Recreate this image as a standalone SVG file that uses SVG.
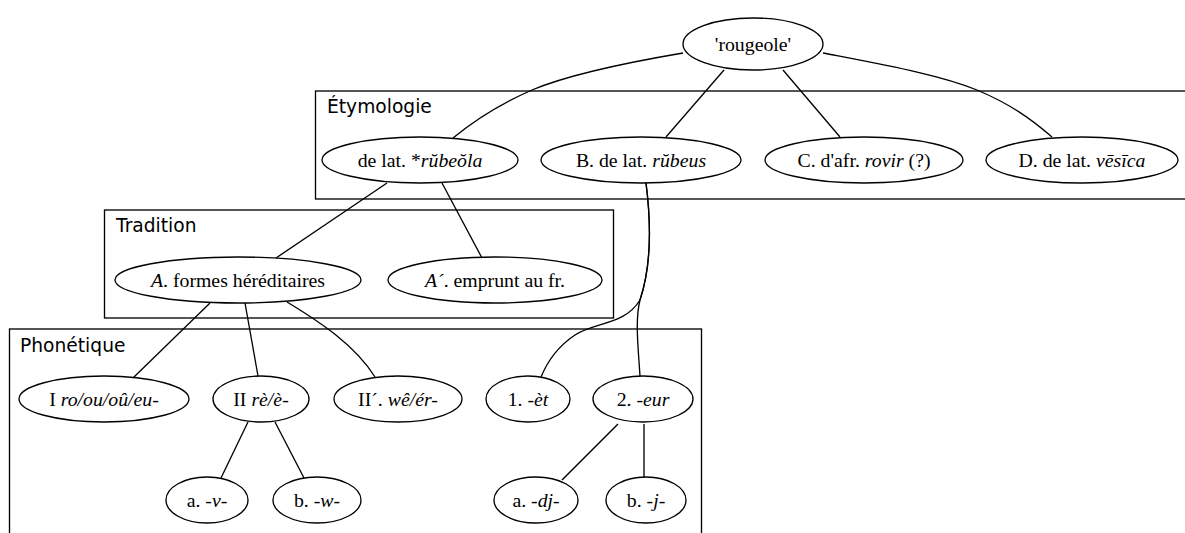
<svg xmlns="http://www.w3.org/2000/svg" width="1185" height="533" viewBox="0 0 1185 533">
<style>
.cl{fill:none;stroke:#000;stroke-width:1.33}
.clt{font-family:"DejaVu Sans",sans-serif;font-size:18.67px;fill:#000}
.n ellipse{fill:none;stroke:#000;stroke-width:1.33}
.n text{font-family:"Liberation Serif","Times New Roman",serif;font-size:19.8px;fill:#000;text-anchor:middle}
.e path{fill:none;stroke:#000;stroke-width:1.33}
.i{font-style:italic}
</style>
<rect width="1185" height="533" fill="#fff"/>
<g id="clusters">
<rect class="cl" x="315.5" y="91" width="880" height="108"/>
<text class="clt" x="327" y="113">Étymologie</text>
<rect class="cl" x="104.5" y="210" width="509" height="108"/>
<text class="clt" x="116" y="232">Tradition</text>
<rect class="cl" x="9.5" y="329" width="692" height="220"/>
<text class="clt" x="20" y="352">Phonétique</text>
</g>
<g class="e" id="edges">
<path d="M683,53 C630,62 570,74 532,90 C500,104 475,120 453,138"/>
<path d="M724,70 L666,137"/>
<path d="M783,70 L840,137"/>
<path d="M823,53 C890,66 940,75 977,90 C1010,104 1030,118 1052,137"/>
<path d="M387,183 L276,258"/>
<path d="M442,183 L482,258"/>
<path d="M646,183 C652,230 650,270 640,300 C635,320 638,345 640,376"/>
<path d="M646,183 C652,230 650,270 640,300 C625,325 595,322 575,335 C560,345 548,360 541,377"/>
<path d="M210,303 L133,378"/>
<path d="M245,303 L258,376"/>
<path d="M287,302 C320,322 355,345 375,377"/>
<path d="M248,422 L221,478"/>
<path d="M275,422 L304,478"/>
<path d="M618,424 L562,480"/>
<path d="M644,424 L644,477"/>
</g>
<g class="n" id="root"><ellipse cx="753" cy="44" rx="70" ry="26"/><text x="753" y="50.5">'rougeole'</text></g>
<g class="n" id="rubeola"><ellipse cx="420" cy="160" rx="98" ry="23"/><text x="420" y="166.5">de lat. *<tspan class="i">rŭbeŏla</tspan></text></g>
<g class="n" id="rubeus"><ellipse cx="641" cy="160" rx="100" ry="23"/><text x="641" y="166.5">B. de lat. <tspan class="i">rŭbeus</tspan></text></g>
<g class="n" id="rovir"><ellipse cx="864" cy="160" rx="99" ry="23"/><text x="864" y="166.5">C. d'afr. <tspan class="i">rovir</tspan> (?)</text></g>
<g class="n" id="vesica"><ellipse cx="1082" cy="160" rx="96" ry="23"/><text x="1082" y="166.5">D. de lat. <tspan class="i">vēsīca</tspan></text></g>
<g class="n" id="hered"><ellipse cx="238" cy="280" rx="123" ry="23"/><text x="238" y="286.5"><tspan class="i">A</tspan>. formes héréditaires</text></g>
<g class="n" id="emprunt"><ellipse cx="495" cy="280" rx="107" ry="23"/><text x="495" y="286.5"><tspan class="i">A´</tspan>. emprunt au fr.</text></g>
<g class="n" id="I"><ellipse cx="104" cy="399" rx="85" ry="23"/><text x="104" y="405.5">I <tspan class="i">ro/ou/oû/eu-</tspan></text></g>
<g class="n" id="II"><ellipse cx="261" cy="399" rx="48" ry="23"/><text x="261" y="405.5">II <tspan class="i">rè/è-</tspan></text></g>
<g class="n" id="IIp"><ellipse cx="398" cy="399" rx="64" ry="23"/><text x="398" y="405.5">II´. <tspan class="i">wê/ér-</tspan></text></g>
<g class="n" id="et"><ellipse cx="528" cy="399" rx="42" ry="23"/><text x="528" y="405.5">1. <tspan class="i">-èt</tspan></text></g>
<g class="n" id="eur"><ellipse cx="643" cy="399" rx="50" ry="23"/><text x="643" y="405.5">2. <tspan class="i">-eur</tspan></text></g>
<g class="n" id="av"><ellipse cx="207" cy="500" rx="41" ry="23"/><text x="207" y="506.5">a. <tspan class="i">-v-</tspan></text></g>
<g class="n" id="bw"><ellipse cx="317" cy="500" rx="44" ry="23"/><text x="317" y="506.5">b. <tspan class="i">-w-</tspan></text></g>
<g class="n" id="adj"><ellipse cx="536" cy="500" rx="42" ry="23"/><text x="536" y="506.5">a. <tspan class="i">-dj-</tspan></text></g>
<g class="n" id="bj"><ellipse cx="646" cy="500" rx="40" ry="23"/><text x="646" y="506.5">b. <tspan class="i">-j-</tspan></text></g>
</svg>
